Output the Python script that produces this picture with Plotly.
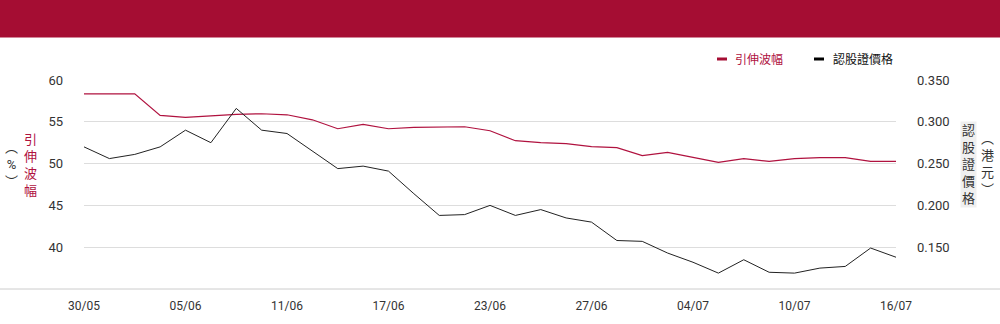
import plotly.graph_objects as go

dates = ["30/05", "31/05", "03/06", "04/06", "05/06", "06/06", "07/06", "10/06", "11/06",
         "12/06", "13/06", "14/06", "17/06", "18/06", "19/06", "20/06", "23/06", "24/06",
         "25/06", "26/06", "27/06", "28/06", "02/07", "03/07", "04/07", "05/07", "08/07",
         "09/07", "10/07", "11/07", "12/07", "15/07", "16/07"]
tick_labels = ["30/05", "05/06", "11/06", "17/06", "23/06", "27/06", "04/07", "10/07", "16/07"]

implied_vol = [58.35, 58.35, 58.35, 55.76, 55.52, 55.72, 55.90, 55.96, 55.84, 55.24, 54.17,
               54.69, 54.17, 54.33, 54.41, 54.41, 53.93, 52.74, 52.50, 52.38, 52.02, 51.90,
               50.95, 51.34, 50.75, 50.15, 50.59, 50.27, 50.59, 50.71, 50.71, 50.27, 50.27]
warrant_price = [0.270, 0.256, 0.261, 0.270, 0.290, 0.275, 0.316, 0.290, 0.286, 0.265, 0.244,
                 0.247, 0.241, 0.214, 0.188, 0.189, 0.200, 0.188, 0.195, 0.185, 0.180, 0.158,
                 0.157, 0.143, 0.132, 0.119, 0.135, 0.120, 0.119, 0.125, 0.127, 0.149, 0.138]

left_ticks = [40, 45, 50, 55, 60]
right_ticks = [0.15, 0.20, 0.25, 0.30, 0.35]

RED = "#A50D33"
LINE_RED = "#B0123F"
TXT = "#333333"
FONT = "Roboto, 'Noto Sans CJK TC', sans-serif"

W, H = 1000, 324
L, R, T, B = 84, 104, 80, 35
PW, PH = W - L - R, H - T - B


def xp(px):
    return (px - L) / PW


def yp(py):
    return (H - B - py) / PH


fig = go.Figure()
fig.add_trace(go.Scatter(x=dates, y=implied_vol, mode="lines", name="引伸波幅",
                         line=dict(color=LINE_RED, width=1.2), showlegend=False))
fig.add_trace(go.Scatter(x=dates, y=warrant_price, mode="lines", name="認股證價格",
                         line=dict(color="#222222", width=1), yaxis="y2", showlegend=False))

shapes = [
    dict(type="rect", xref="paper", yref="paper", x0=xp(0), x1=xp(W), y0=yp(37.5), y1=yp(0),
         fillcolor=RED, line=dict(width=0), layer="below"),
    dict(type="line", xref="paper", yref="paper", x0=xp(0), x1=xp(W), y0=yp(289), y1=yp(289),
         line=dict(color="#cccccc", width=1)),
    # legend swatches
    dict(type="rect", xref="paper", yref="paper", x0=xp(717), x1=xp(727), y0=yp(60.5), y1=yp(57.5),
         fillcolor=RED, line=dict(width=0)),
    dict(type="rect", xref="paper", yref="paper", x0=xp(814), x1=xp(824), y0=yp(60.5), y1=yp(57.5),
         fillcolor="#000000", line=dict(width=0)),
]

annotations = [
    dict(text="引伸波幅", x=xp(733), y=yp(59), xref="paper", yref="paper", xanchor="left",
         yanchor="middle", showarrow=False, font=dict(family=FONT, size=12, color=LINE_RED)),
    dict(text="認股證價格", x=xp(831), y=yp(59), xref="paper", yref="paper", xanchor="left",
         yanchor="middle", showarrow=False, font=dict(family=FONT, size=12, color="#111111")),
    # left axis title (vertical)
    dict(text="<br>".join("引伸波幅"), x=xp(30), y=yp(164.5), xref="paper", yref="paper",
         xanchor="center", yanchor="middle", showarrow=False,
         font=dict(family=FONT, size=13, color=LINE_RED)),
    dict(text="<br>".join("︵%︶"), x=xp(11), y=yp(164), xref="paper", yref="paper",
         xanchor="center", yanchor="middle", showarrow=False,
         font=dict(family=FONT, size=13, color=TXT)),
    # right axis title (vertical)
    dict(text="<br>".join("認股證價格"), x=xp(969), y=yp(164.5), xref="paper", yref="paper",
         xanchor="center", yanchor="middle", showarrow=False, bgcolor="#efefef",
         font=dict(family=FONT, size=13, color=TXT)),
    dict(text="<br>".join("︵港元︶"), x=xp(987), y=yp(164), xref="paper", yref="paper",
         xanchor="center", yanchor="middle", showarrow=False,
         font=dict(family=FONT, size=13, color=TXT)),
]

fig.update_layout(
    width=W, height=H, autosize=False,
    margin=dict(l=L, r=R, t=T, b=B, pad=0),
    paper_bgcolor="white", plot_bgcolor="white",
    showlegend=False,
    font=dict(family=FONT, size=12, color=TXT),
    shapes=shapes, annotations=annotations,
    xaxis=dict(type="category", tickmode="array", tickvals=tick_labels, ticktext=tick_labels,
               range=[0, len(dates) - 1], showgrid=False, zeroline=False, showline=False,
               ticks="outside", ticklen=6, tickcolor="rgba(0,0,0,0)",
               tickfont=dict(family=FONT, size=12, color=TXT)),
    yaxis=dict(range=[35, 60], tickvals=left_ticks, showgrid=True, gridcolor="#dddddd",
               gridwidth=1, zeroline=False, showline=False, ticklabelstandoff=20,
               tickfont=dict(family=FONT, size=13, color=TXT)),
    yaxis2=dict(range=[0.10, 0.35], tickvals=right_ticks, tickformat=".3f", overlaying="y",
                side="right", showgrid=False, zeroline=False, showline=False,
                ticklabelstandoff=20, tickfont=dict(family=FONT, size=13, color=TXT)),
)

fig.write_html("out.html")
